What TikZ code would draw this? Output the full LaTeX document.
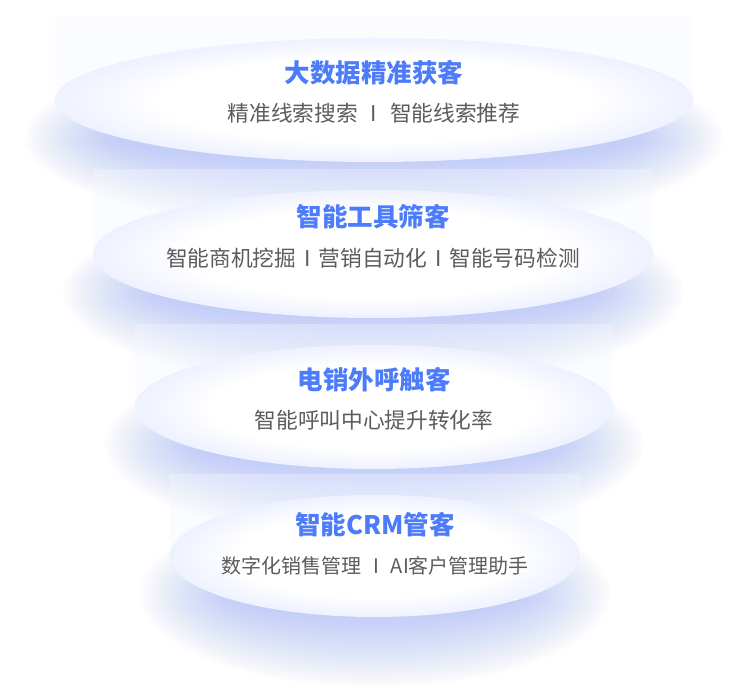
\documentclass[tikz,border=0pt]{standalone}
\usepackage{fontspec}
\setmainfont{Noto Sans CJK SC}
\definecolor{titleblue}{RGB}{76,124,250}
\definecolor{subgray}{RGB}{92,92,92}
\definecolor{glowblue}{RGB}{150,175,248}
\definecolor{discrim}{RGB}{238,241,255}
\definecolor{boxtint}{RGB}{246,248,255}
\pgfdeclareradialshading{discshade}{\pgfpointorigin}{color(0bp)=(white); color(17bp)=(white); color(25bp)=(discrim); color(50bp)=(discrim)}
\newcommand\barsep[1]{\hspace{#1}I\hspace{#1}}
\tikzset{
  titletext/.style={text=titleblue,font=\fontsize{25.5}{30}\selectfont\bfseries,inner sep=0pt},
  subtext/.style={text=subgray,inner sep=0pt},
  backbox/.style={fill=boxtint,opacity=.35},
  glow/.style={fill=glowblue,opacity=.028},
  disc/.style={shading=discshade}
}
\begin{document}
\begin{tikzpicture}[x=1pt,y=-1pt]
  \fill[white] (0,0) rectangle (750,692);
  \useasboundingbox (0,0) rectangle (750,692);
  %===========================================
  \foreach \n/\cx/\cy/\rx/\ry/\ty/\sy/\fs/\ttl/\sub in {
      one/374/100/319/62/73/113/21.7/{大数据精准获客}/{精准线索搜索\barsep{13pt}智能线索推荐},
      two/373/254/280/64/217/258/21.7/{智能工具筛客}/{智能商机挖掘\barsep{8pt}营销自动化\barsep{8pt}智能号码检测},
      three/374/407/239/62/380/420/21.7/{电销外呼触客}/{智能呼叫中心提升转化率},
      four/375/556/205/61/525/566/20/{智能CRM管客}/{数字化销售管理\barsep{12pt}AI客户管理助手}}{
    \fill[backbox] ({\cx-\rx},{\cy-\ry-21}) rectangle ({\cx+\rx},\cy);
    \foreach \k in {0,...,23}
      \fill[glow] (\cx,{\cy+38}) ellipse [x radius={\rx+30-3.8*\k}, y radius={\ry+32-3*\k}];
    \shade[disc] (\cx,\cy) ellipse [x radius=\rx, y radius=\ry];
    \node[titletext] (title-\n) at (\cx,\ty) {\ttl};
    \node[subtext,font=\fontsize{\fs}{25}\selectfont] (sub-\n) at (\cx,\sy) {\sub};
  }
\end{tikzpicture}
\end{document}
